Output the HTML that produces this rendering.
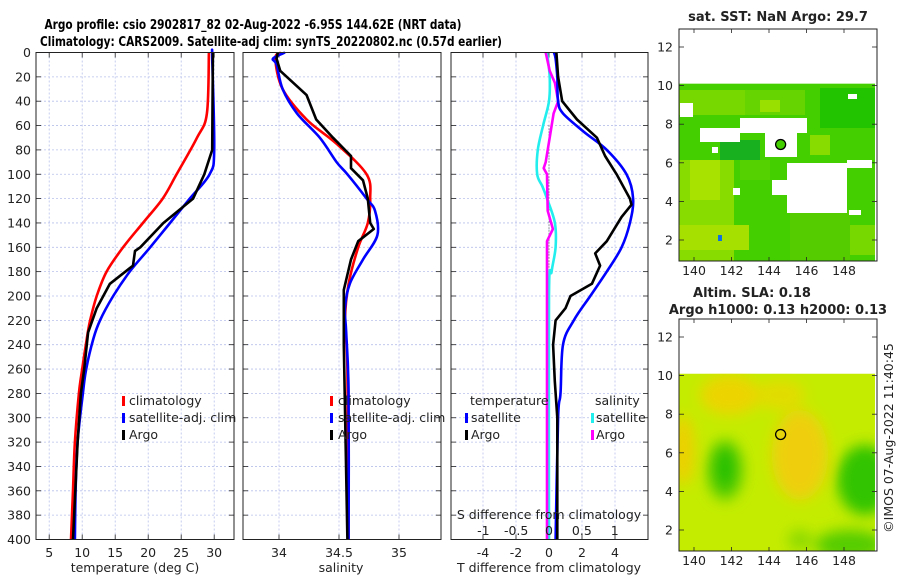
<!DOCTYPE html>
<html><head><meta charset="utf-8"><style>
html,body{margin:0;padding:0;background:#fff;}
svg{display:block;font-family:"DejaVu Sans","Liberation Sans",sans-serif;}
</style></head><body>
<svg id="fig" width="900" height="580" viewBox="0 0 900 580">
<text x="253" y="29" font-size="13.5" font-weight="bold" text-anchor="middle" textLength="417" lengthAdjust="spacingAndGlyphs">Argo profile: csio 2902817_82 02-Aug-2022 -6.95S 144.62E (NRT data)</text>
<text x="271" y="46" font-size="13.5" font-weight="bold" text-anchor="middle" textLength="462" lengthAdjust="spacingAndGlyphs">Climatology: CARS2009. Satellite-adj clim: synTS_20220802.nc (0.57d earlier)</text>
<g id="profiles"></g>
<g id="maps"></g>
<text transform="translate(893,438) rotate(-90)" font-size="12.5" text-anchor="middle" fill="#222">©IMOS 07-Aug-2022 11:40:45</text>
</svg>
<script>
// depth levels and series
const depthTicks = [0,20,40,60,80,100,120,140,160,180,200,220,240,260,280,300,320,340,360,380,400];
const tempTicks = [5,10,15,20,25,30];
const salTicks = [34,34.5,35];
const salTickLabels = ["34","34.5","35"];
const tdiffTicks = [-4,-2,0,2,4];
const sdiffTicks = [-1,-0.5,0,0.5,1];
const sdiffTickLabels = ["-1","-0.5","0","0.5","1"];

const tClimD = [0,50,70,100,120,140,160,180,200,220,235,260,280,320,360,400];
const tClimV = [29.2,28.9,27.4,24.3,22.2,19.2,16.2,13.7,12.2,11.2,10.7,10.0,9.5,8.9,8.6,8.3];
const tSatD = [0,5,80,100,120,140,160,180,200,220,235,260,280,320,360,400];
const tSatV = [29.7,29.7,30.0,29.3,26.3,23.3,20.3,17.2,14.7,12.7,11.7,10.6,10.1,9.3,9.0,8.9];
const tArgoD = [0,80,100,120,140,160,163,175,190,210,230,260,280,320,400];
const tArgoV = [29.8,29.7,28.5,26.8,22.3,18.8,18.0,17.7,14.2,12.2,10.9,10.3,9.8,9.3,8.6];

const sClimD = [0,5,30,55,75,100,120,140,160,190,220,260,400];
const sClimV = [34.02,33.97,34.03,34.23,34.48,34.73,34.76,34.74,34.66,34.58,34.55,34.57,34.58];
const sSatD = [0,5,10,30,50,70,90,100,120,130,150,170,190,210,230,280,400];
const sSatV = [34.05,33.95,33.98,34.03,34.15,34.34,34.48,34.57,34.73,34.80,34.82,34.70,34.59,34.55,34.56,34.58,34.58];
const sArgoD = [0,5,15,25,35,55,70,85,95,105,120,140,145,155,170,195,240,400];
const sArgoV = [33.99,33.98,34.01,34.12,34.23,34.31,34.45,34.60,34.60,34.70,34.74,34.76,34.79,34.66,34.60,34.54,34.54,34.57];

const dTSatD = [0,5,20,40,50,65,80,100,120,140,160,180,200,220,240,280,300,400];
const dTSatV = [0.3,0.4,0.5,0.55,0.85,2.1,3.5,4.7,5.1,4.9,4.4,3.5,2.5,1.5,0.85,0.7,0.55,0.4];
const dTArgoD = [0,20,40,55,70,85,100,120,125,135,155,165,175,190,200,210,220,240,270,300,400];
const dTArgoV = [0.45,0.55,0.8,1.7,2.9,3.4,4.1,4.9,5.0,4.4,3.5,2.8,3.1,2.6,1.3,1.0,0.4,0.25,0.35,0.5,0.5];
const dSSatD = [0,20,40,60,80,100,110,120,140,160,180,200,400];
const dSSatV = [-0.03,0.01,0.0,-0.09,-0.17,-0.18,-0.1,-0.03,0.09,0.1,0.04,0.0,0.0];
const dSArgoD = [0,15,25,40,50,70,90,95,100,130,145,155,200,400];
const dSArgoV = [-0.05,0.01,0.09,0.14,0.07,0.01,-0.05,-0.08,-0.03,-0.02,0.06,-0.03,-0.03,-0.03];

const NS='http://www.w3.org/2000/svg';
function mk(tag,attrs,parent){const e=document.createElementNS(NS,tag);for(const k in attrs)e.setAttribute(k,attrs[k]);parent.appendChild(e);return e;}
const yD = d => 52.5 + d*1.2175;
const PT=52.5, PB=539.5;
const G=document.getElementById('profiles');

function panel(x0,x1,xf,ticks,labels,name){
  const g=mk('g',{},G);
  
  
  depthTicks.forEach(d=>{ if(d>0&&d<400) mk('line',{x1:x0,x2:x1,y1:yD(d),y2:yD(d),stroke:'#b8c0ea','stroke-width':0.8,'stroke-dasharray':'2,2'},g);
    mk('line',{x1:x0,x2:x0+5,y1:yD(d),y2:yD(d),stroke:'#222','stroke-width':0.8},g);
    mk('line',{x1:x1-5,x2:x1,y1:yD(d),y2:yD(d),stroke:'#222','stroke-width':0.8},g);});
  ticks.forEach((t,i)=>{const x=xf(t);
    mk('line',{x1:x,x2:x,y1:PT,y2:PB,stroke:'#b8c0ea','stroke-width':0.8,'stroke-dasharray':'2,2'},g);
    mk('line',{x1:x,x2:x,y1:PT,y2:PT+5,stroke:'#222','stroke-width':0.8},g);
    mk('line',{x1:x,x2:x,y1:PB-5,y2:PB,stroke:'#222','stroke-width':0.8},g);
    if(labels){const tx=mk('text',{x:x,y:557,'font-size':12.5,'text-anchor':'middle',fill:'#222'},g);tx.textContent=labels[i];
      
      }
  });
  return g;
}
function line(g,D,V,xf,color,name,smooth){
  const P=D.map((d,i)=>[xf(V[i]),yD(d)]);
  let dstr='M'+P[0][0].toFixed(1)+','+P[0][1].toFixed(1);
  for(let i=0;i<P.length-1;i++){
    if(smooth){
      const p0=P[Math.max(0,i-1)],p1=P[i],p2=P[i+1],p3=P[Math.min(P.length-1,i+2)];
      const c1=[p1[0]+(p2[0]-p0[0])/6,p1[1]+(p2[1]-p0[1])/6],c2=[p2[0]-(p3[0]-p1[0])/6,p2[1]-(p3[1]-p1[1])/6];
      dstr+=' C'+c1.map(v=>v.toFixed(1)).join(',')+' '+c2.map(v=>v.toFixed(1)).join(',')+' '+p2.map(v=>v.toFixed(1)).join(',');
    } else dstr+=' L'+P[i+1][0].toFixed(1)+','+P[i+1][1].toFixed(1);
  }
  const p=mk('path',{d:dstr,fill:'none',stroke:color,'stroke-width':2.6,'stroke-linejoin':'round'},g);
  
  
}
function frame(g,x0,x1){mk('rect',{x:x0,y:PT,width:x1-x0,height:PB-PT,fill:'none',stroke:'#222','stroke-width':1},g);}
function txt(g,x,y,s,name,opt){const t=mk('text',Object.assign({x:x,y:y,'font-size':12.5,fill:'#222'},opt||{}),g);t.textContent=s;
  
  return t;}
function legendMark(g,x,y,c){mk('rect',{x:x,y:y-9,width:3,height:10,fill:c},g);}

// panel 1 temperature
const xT = t => 36 + (t-3)*6.6;
let g1=panel(36,234,xT,tempTicks,tempTicks.map(String),'temperature-panel');
line(g1,tClimD,tClimV,xT,'#ff0000','temp-climatology-line',true);
line(g1,tSatD,tSatV,xT,'#0000ff','temp-satellite-line',true);
line(g1,tArgoD,tArgoV,xT,'#000','temp-argo-line',false);
frame(g1,36,234);
depthTicks.forEach(d=>{txt(g1,31,yD(d)+4.5,String(d),'depth-tick-label',{'text-anchor':'end'});});
txt(g1,135,572,'temperature (deg C)','temperature-axis-title',{'text-anchor':'middle'});
[['climatology','#ff0000'],['satellite-adj. clim','#0000ff'],['Argo','#000']].forEach((l,i)=>{legendMark(g1,122,405+i*17,l[1]);txt(g1,129,405+i*17,l[0],'temp-legend-entry');});

// panel 2 salinity
const xS = s => 279 + (s-34)*120;
let g2=panel(243,441,xS,salTicks,salTickLabels,'salinity-panel');
line(g2,sClimD,sClimV,xS,'#ff0000','sal-climatology-line',true);
line(g2,sSatD,sSatV,xS,'#0000ff','sal-satellite-line',true);
line(g2,sArgoD,sArgoV,xS,'#000','sal-argo-line',false);
frame(g2,243,441);
txt(g2,341,572,'salinity','salinity-axis-title',{'text-anchor':'middle'});
[['climatology','#ff0000'],['satellite-adj. clim','#0000ff'],['Argo','#000']].forEach((l,i)=>{legendMark(g2,330,405+i*17,l[1]);txt(g2,338,405+i*17,l[0],'sal-legend-entry');});

// panel 3 differences
const xDT = v => 549 + v*16.5;
const xDS = v => 549 + v*65.7;
let g3=panel(451,648,xDT,tdiffTicks,tdiffTicks.map(String),'difference-panel');
mk('line',{x1:549,x2:549,y1:yD(60),y2:yD(240),stroke:'#555','stroke-width':1,'stroke-dasharray':'1,2'},g3);
line(g3,dSSatD,dSSatV,xDS,'#22eeee','sdiff-satellite-line',true);
line(g3,dSArgoD,dSArgoV,xDS,'#ff00ff','sdiff-argo-line',false);
line(g3,dTSatD,dTSatV,xDT,'#0000ff','tdiff-satellite-line',true);
line(g3,dTArgoD,dTArgoV,xDT,'#000','tdiff-argo-line',false);
frame(g3,451,648);
sdiffTicks.forEach((v,i)=>{txt(g3,xDS(v),535,sdiffTickLabels[i],'sdiff-tick-label',{'text-anchor':'middle'});});
txt(g3,549,519,'S difference from climatology','sdiff-axis-title',{'text-anchor':'middle'});
txt(g3,549,572,'T difference from climatology','tdiff-axis-title',{'text-anchor':'middle'});
txt(g3,470,405,'temperature','legend-temperature-header');
txt(g3,595,405,'salinity','legend-salinity-header');
legendMark(g3,465,422,'#0000ff');txt(g3,471,422,'satellite','legend-tdiff-satellite');
legendMark(g3,465,439,'#000');txt(g3,471,439,'Argo','legend-tdiff-argo');
legendMark(g3,591,422,'#22eeee');txt(g3,596,422,'satellite','legend-sdiff-satellite');
legendMark(g3,591,439,'#ff00ff');txt(g3,596,439,'Argo','legend-sdiff-argo');

// maps
const M=document.getElementById('maps');
const mapLon=[140,142,144,146,148];
const mapLat=[2,4,6,8,10,12];
const lonX = lo => 694 + (lo-140)*18.75;
function mapAxes(yTop,yBot,lat2y,name){
  const g=mk('g',{},M);
  
  
  mapLat.forEach(la=>{const y=lat2y(la);
    mk('line',{x1:679,x2:684,y1:y,y2:y,stroke:'#222','stroke-width':0.8},g);
    mk('line',{x1:872,x2:877,y1:y,y2:y,stroke:'#222','stroke-width':0.8},g);
    txt(g,673,y+4.5,String(la),'map-lat-label',{'text-anchor':'end'});});
  mapLon.forEach(lo=>{const x=lonX(lo);
    mk('line',{x1:x,x2:x,y1:yTop,y2:yTop+4,stroke:'#222','stroke-width':0.8},g);
    mk('line',{x1:x,x2:x,y1:yBot-4,y2:yBot,stroke:'#222','stroke-width':0.8},g);
    txt(g,x,yBot+14,String(lo),'map-lon-label',{'text-anchor':'middle'});});
  mk('rect',{x:679,y:yTop,width:198,height:yBot-yTop,fill:'none',stroke:'#222','stroke-width':1},g);
  const dotY=lat2y(6.95), dotX=lonX(144.62);
  return {g,dotX,dotY};
}
// top SST map
const lat2yA = la => 240 - (la-2)*19.3;
const gA=mk('g',{},M);


mk('rect',{x:679,y:lat2yA(10.1),width:196,height:261-lat2yA(10.1),fill:'#44d000'},gA);
mk('rect',{x:679,y:160,width:55,height:101,fill:'#88dc00'},gA);
mk('rect',{x:679,y:225,width:70,height:25,fill:'#a6e000'},gA);
mk('rect',{x:690,y:160,width:30,height:40,fill:'#a8e200'},gA);
mk('rect',{x:679,y:90,width:80,height:25,fill:'#77d800'},gA);
mk('rect',{x:745,y:90,width:60,height:25,fill:'#66d400'},gA);
mk('rect',{x:820,y:88,width:55,height:40,fill:'#22c400'},gA);
mk('rect',{x:790,y:210,width:60,height:50,fill:'#55cc00'},gA);
mk('rect',{x:720,y:140,width:40,height:20,fill:'#19b020'},gA);
mk('rect',{x:760,y:100,width:20,height:12,fill:'#99e000'},gA);
mk('rect',{x:810,y:135,width:20,height:20,fill:'#88dc00'},gA);
mk('rect',{x:740,y:160,width:30,height:20,fill:'#55d000'},gA);
mk('rect',{x:850,y:225,width:25,height:30,fill:'#77d800'},gA);
mk('rect',{x:718,y:235,width:4,height:6,fill:'#1070e0'},gA);
[[680,103,13,14],[700,128,40,14],[740,118,67,15],[765,133,32,24],[712,147,6,6],[772,180,25,15],[787,163,60,50],[847,160,25,8],[848,94,9,5],[733,188,7,7],[849,210,12,5]].forEach(r=>mk('rect',{x:r[0],y:r[1],width:r[2],height:r[3],fill:'#fff'},gA));
const axA=mapAxes(29,261,lat2yA,'sst-map-axes');
mk('circle',{cx:axA.dotX,cy:axA.dotY,r:5,fill:'#44d000',stroke:'#000','stroke-width':1.3},axA.g);
txt(M,778,21,'sat. SST: NaN Argo: 29.7','sst-map-title',{'text-anchor':'middle','font-weight':'bold','font-size':13});

// bottom SLA map
const lat2yB = la => 530 - (la-2)*19.3;
const gB=mk('g',{},M);


mk('defs',{},gB).innerHTML='<filter id="bl" x="-50%" y="-50%" width="200%" height="200%"><feGaussianBlur stdDeviation="7"/></filter><clipPath id="cb"><rect x="679" y="'+lat2yB(10.1)+'" width="196" height="'+(551-lat2yB(10.1))+'"/></clipPath>';
const gc=mk('g',{'clip-path':'url(#cb)'},gB);
mk('rect',{x:679,y:lat2yB(10.1),width:196,height:551-lat2yB(10.1),fill:'#c4ec00'},gc);
const gf=mk('g',{filter:'url(#bl)'},gc);
mk('ellipse',{cx:730,cy:395,rx:30,ry:20,fill:'#ecd400'},gf);
mk('ellipse',{cx:800,cy:455,rx:28,ry:45,fill:'#efcf10'},gf);
mk('ellipse',{cx:780,cy:395,rx:25,ry:15,fill:'#e2dc00'},gf);
mk('ellipse',{cx:683,cy:450,rx:12,ry:35,fill:'#ecd000'},gf);
mk('ellipse',{cx:725,cy:470,rx:18,ry:30,fill:'#55cc00'},gf);
mk('ellipse',{cx:725,cy:468,rx:10,ry:20,fill:'#22c000'},gf);
mk('ellipse',{cx:865,cy:480,rx:28,ry:35,fill:'#33c400'},gf);
mk('ellipse',{cx:850,cy:545,rx:35,ry:15,fill:'#55cc00'},gf);
mk('ellipse',{cx:800,cy:540,rx:12,ry:10,fill:'#88d800'},gf);
const axB=mapAxes(319,551,lat2yB,'sla-map-axes');
mk('circle',{cx:axB.dotX,cy:axB.dotY,r:5,fill:'none',stroke:'#000','stroke-width':1.3},axB.g);
txt(M,752,297,'Altim. SLA: 0.18','sla-map-title',{'text-anchor':'middle','font-weight':'bold','font-size':13});
txt(M,778,314,'Argo h1000: 0.13 h2000: 0.13','sla-map-subtitle',{'text-anchor':'middle','font-weight':'bold','font-size':13});
</script>
</body></html>
